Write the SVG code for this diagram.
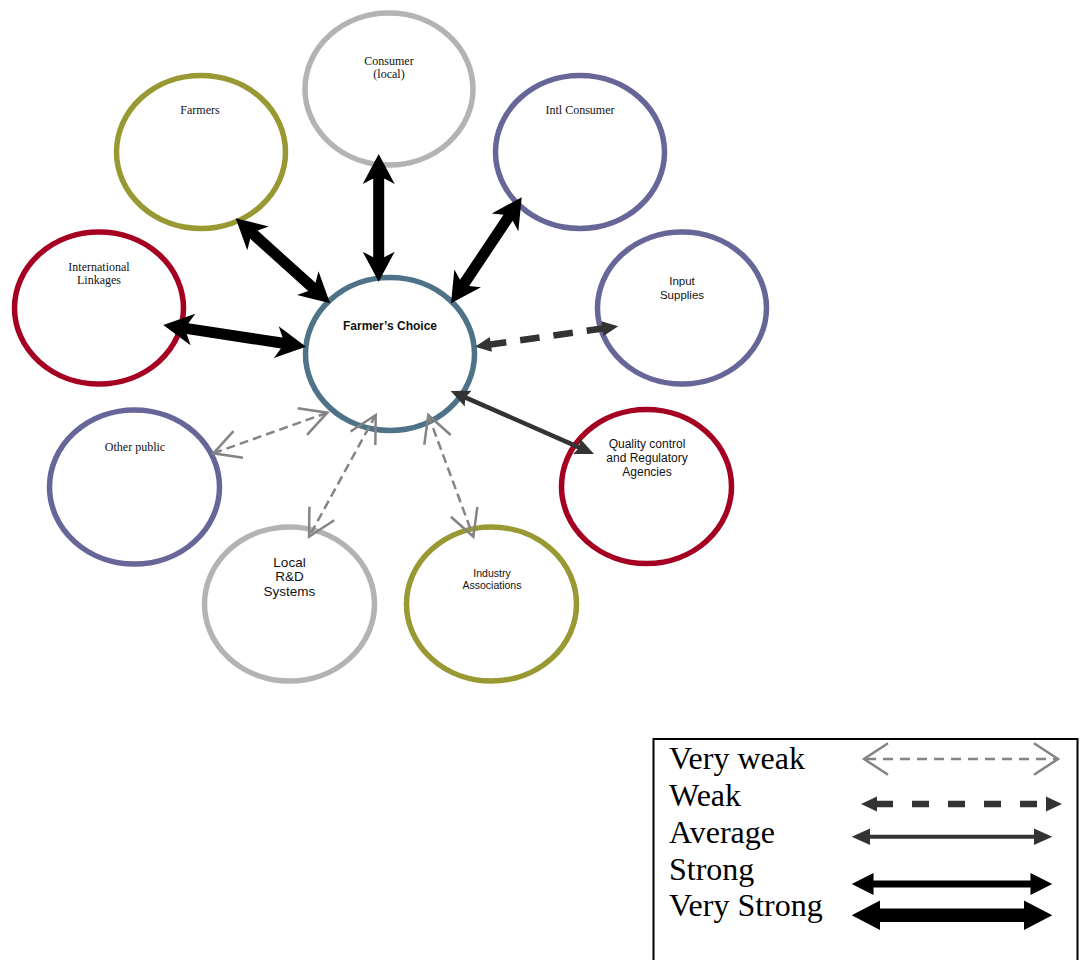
<svg xmlns="http://www.w3.org/2000/svg" width="1080" height="960" viewBox="0 0 1080 960">
<style>
.n{fill:#fff;stroke-width:5.5}
.olive{stroke:#999933}.grey{stroke:#b3b3b3}.purple{stroke:#666699}.red{stroke:#a50021}.teal{stroke:#4e7287}
.serif{font-family:"Liberation Serif","Times New Roman",serif;font-size:12px;fill:#111;text-anchor:middle}
.sans{font-family:"Liberation Sans",Arial,sans-serif;fill:#111;text-anchor:middle}
.vs{fill:#000}
.vw{fill:none;stroke:#848484;stroke-width:2.5}
.vwd{stroke-dasharray:9 5}
.wk{fill:#333}
.wkl{stroke:#333;stroke-width:6.5;stroke-dasharray:19.6 14;fill:none}
.av{fill:#333}
.avl{stroke:#333;stroke-width:4.5}
.leg{font-family:"Liberation Serif","Times New Roman",serif;font-size:32px;fill:#000}
</style>
<rect width="1080" height="960" fill="#fff"/>
<g id="node-consumer-local"><ellipse class="n grey" cx="389" cy="89" rx="84" ry="76"/><text class="serif" x="389" y="65">Consumer</text><text class="serif" x="389" y="78">(local)</text></g>
<g id="node-farmers"><ellipse class="n olive" cx="201" cy="152" rx="84.5" ry="76.5"/><text class="serif" x="200" y="114">Farmers</text></g>
<g id="node-intl-consumer"><ellipse class="n purple" cx="580" cy="152" rx="84.5" ry="76.5"/><text class="serif" x="580" y="114">Intl Consumer</text></g>
<g id="node-international-linkages"><ellipse class="n red" cx="99" cy="308" rx="84.5" ry="76"/><text class="serif" x="99" y="270.5">International</text><text class="serif" x="99" y="284">Linkages</text></g>
<g id="node-input-supplies"><ellipse class="n purple" cx="682" cy="308" rx="84.5" ry="76"/><text class="sans" font-size="11.5" x="682" y="285">Input</text><text class="sans" font-size="11.5" x="682" y="299">Supplies</text></g>
<g id="node-farmers-choice"><ellipse class="n teal" cx="390" cy="354" rx="84.5" ry="76.5"/><text class="sans" font-size="12" font-weight="bold" x="390" y="330">Farmer’s Choice</text></g>
<g id="node-other-public"><ellipse class="n purple" cx="134.5" cy="487" rx="85" ry="77"/><text class="serif" x="135" y="450.5">Other public</text></g>
<g id="node-quality-control"><ellipse class="n red" cx="646.5" cy="486.5" rx="85" ry="77"/><text class="sans" font-size="12" x="647" y="448">Quality control</text><text class="sans" font-size="12" x="647" y="462">and Regulatory</text><text class="sans" font-size="12" x="647" y="476">Agencies</text></g>
<g id="node-local-rd"><ellipse class="n grey" cx="289.5" cy="604" rx="85" ry="77"/><text class="sans" font-size="13.5" x="289.5" y="566.5">Local</text><text class="sans" font-size="13.5" x="289.5" y="581">R&amp;D</text><text class="sans" font-size="13.5" x="289.5" y="596">Systems</text></g>
<g id="node-industry-associations"><ellipse class="n olive" cx="491.5" cy="604" rx="85" ry="77"/><text class="sans" font-size="10.5" x="492" y="577">Industry</text><text class="sans" font-size="10.5" x="492" y="589">Associations</text></g>
<g id="connectors">
<path class="vs" transform="translate(378.7 154) rotate(90)" d="M0,0 L30,-16 L24.5,-5.5 L103.2,-5.5 L97.7,-16 L127.7,0 L97.7,16 L103.2,5.5 L24.5,5.5 L30,16 Z"/>
<path class="vs" transform="translate(235.7 218.3) rotate(42)" d="M0,0 L30,-16 L24.5,-5.5 L102.5,-5.5 L97,-16 L127,0 L97,16 L102.5,5.5 L24.5,5.5 L30,16 Z"/>
<path class="vs" transform="translate(521.7 197.3) rotate(123.7)" d="M0,0 L30,-16 L24.5,-5.5 L102.9,-5.5 L97.4,-16 L127.4,0 L97.4,16 L102.9,5.5 L24.5,5.5 L30,16 Z"/>
<path class="vs" transform="translate(163.3 325) rotate(8.65)" d="M0,0 L30,-16 L24.5,-5.5 L119.8,-5.5 L114.3,-16 L144.3,0 L114.3,16 L119.8,5.5 L24.5,5.5 L30,16 Z"/>
<g transform="translate(475 346.7) rotate(-8.1)"><line class="wkl" x1="12" y1="0" x2="132.7" y2="0"/><path class="wk" d="M0,0 L16,-7.5 L16,7.5 Z M144.7,0 L128.7,-7.5 L128.7,7.5 Z"/></g>
<g transform="translate(450.7 391) rotate(23.7)"><line class="avl" x1="12" y1="0" x2="144.5" y2="0"/><path class="av" d="M0,0 L19,-8.5 L16,0 L19,8.5 Z M156.5,0 L137.5,-8.5 L140.5,0 L137.5,8.5 Z"/></g>
<g transform="translate(213.3 453.3) rotate(-19.6)"><line class="vw vwd" x1="0" y1="0" x2="121" y2="0"/><path class="vw" d="M26.5,-14.1 L0,0 L26.5,14.1 M94.5,-14.1 L121,0 L94.5,14.1"/></g>
<g transform="translate(375.7 415) rotate(118.7)"><line class="vw vwd" x1="0" y1="0" x2="138.8" y2="0"/><path class="vw" d="M26.5,-14.1 L0,0 L26.5,14.1 M112.3,-14.1 L138.8,0 L112.3,14.1"/></g>
<g transform="translate(428.3 415) rotate(69.7)"><line class="vw vwd" x1="0" y1="0" x2="129.8" y2="0"/><path class="vw" d="M26.5,-14.1 L0,0 L26.5,14.1 M103.3,-14.1 L129.8,0 L103.3,14.1"/></g>
</g>
<g id="legend">
<rect x="653.5" y="739" width="424" height="240" fill="none" stroke="#000" stroke-width="2"/>
<text class="leg" x="669" y="769">Very weak</text>
<text class="leg" x="669" y="806">Weak</text>
<text class="leg" x="669" y="843">Average</text>
<text class="leg" x="669" y="880">Strong</text>
<text class="leg" x="669" y="916">Very Strong</text>
<line class="vw" stroke-dasharray="10 7" x1="866" y1="759" x2="1056" y2="759"/>
<path class="vw" d="M888,743.3 L864,759 L888,774.7 M1034,743.3 L1058,759 L1034,774.7"/>
<line stroke="#333" stroke-width="6.5" stroke-dasharray="17 19" x1="876" y1="804" x2="1046" y2="804"/>
<path class="wk" d="M861,804 L877,796.5 L877,811.5 Z M1062,804 L1046,796.5 L1046,811.5 Z"/>
<line stroke="#333" stroke-width="4" x1="866" y1="836.7" x2="1038" y2="836.7"/>
<path class="av" d="M851.7,836.7 L870,828.4 L870,845 Z M1052.3,836.7 L1034,828.4 L1034,845 Z"/>
<path class="vs" d="M851.7,884 L873.5,873 L873.5,880.5 L1030.5,880.5 L1030.5,873 L1052.3,884 L1030.5,895 L1030.5,887.5 L873.5,887.5 L873.5,895 Z"/>
<path class="vs" d="M851.7,915.3 L880,900.6 L880,908.6 L1024,908.6 L1024,900.6 L1052.3,915.3 L1024,930 L1024,922 L880,922 L880,930 Z"/>
</g>
</svg>
